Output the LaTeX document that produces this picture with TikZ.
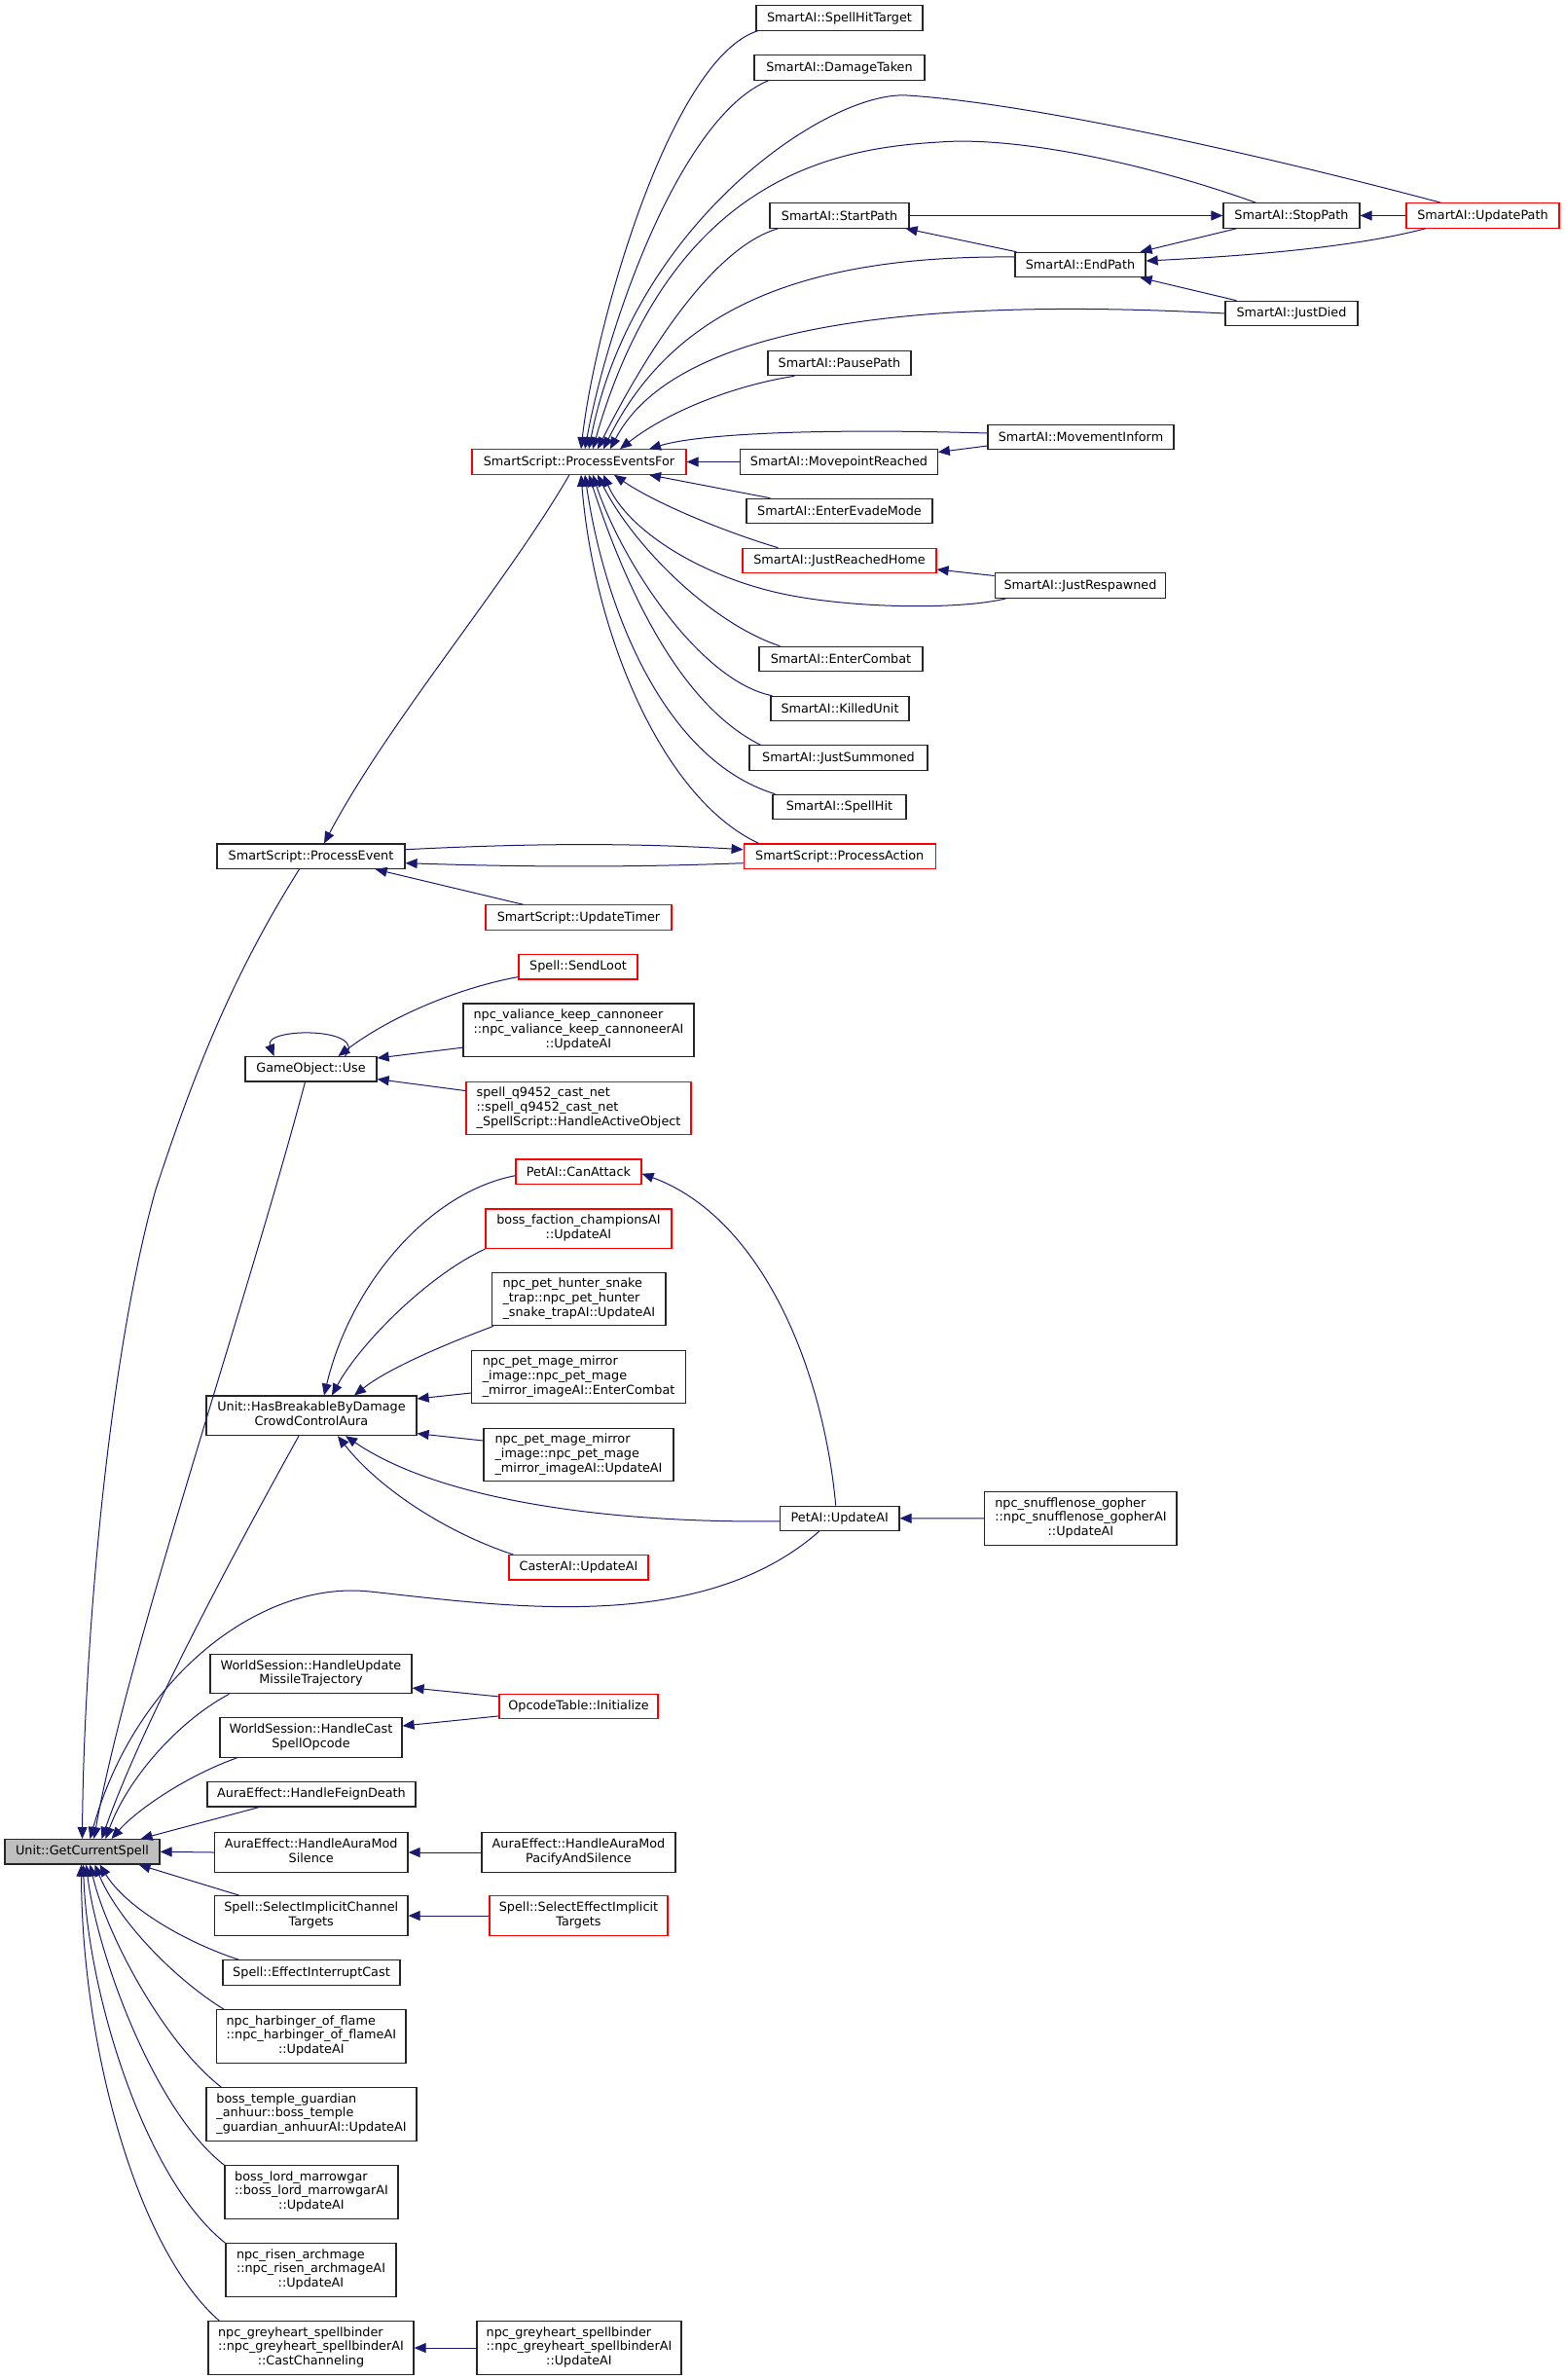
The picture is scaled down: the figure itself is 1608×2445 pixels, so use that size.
\documentclass[tikz,border=0pt]{standalone}
\usepackage{fontspec}
\setmainfont{DejaVu Sans}
\usetikzlibrary{arrows.meta}
\definecolor{edgeblue}{HTML}{191970}
\definecolor{gcsgray}{HTML}{BFBFBF}
\newcommand\twol[2]{\begin{tabular}{@{}l@{}}#1\\\multicolumn{1}{@{}c@{}}{#2}\end{tabular}}
\newcommand\threel[3]{\begin{tabular}{@{}l@{}}#1\\#2\\\multicolumn{1}{@{}c@{}}{#3}\end{tabular}}
\begin{document}
\begin{tikzpicture}[x=1pt,y=-1pt,
  nd/.style={draw=black!85,line width=1.2pt,fill=white,inner sep=0pt,font=\fontsize{12.8pt}{14.8pt}\selectfont,minimum height=25.4pt},
  rd/.style={nd,draw=red},
  two/.style={minimum height=40.5pt},
  three/.style={minimum height=54.5pt},
  ed/.style={draw=edgeblue,line width=1pt,-{Triangle[length=12pt,width=10pt]}}]
\fill[white] (0,0) rectangle (1608,2445);
\useasboundingbox (0,0) rectangle (1608,2445);

% ---------- nodes ----------
\node[rd,minimum width=220pt] (pef) at (595,474.5) {SmartScript::ProcessEventsFor};
\node[nd,minimum width=171pt] (sht) at (862.5,18.5) {SmartAI::SpellHitTarget};
\node[nd,minimum width=175pt] (dmg) at (862.5,69.5) {SmartAI::DamageTaken};
\node[nd,minimum width=143pt] (startp) at (862.5,221.5) {SmartAI::StartPath};
\node[nd,minimum width=140pt] (stopp) at (1327,221.5) {SmartAI::StopPath};
\node[rd,minimum width=157pt] (updp) at (1523.5,221.5) {SmartAI::UpdatePath};
\node[nd,minimum width=134pt] (endp) at (1110,272) {SmartAI::EndPath};
\node[nd,minimum width=136pt] (died) at (1327,322) {SmartAI::JustDied};
\node[nd,minimum width=147pt] (pause) at (862.5,373) {SmartAI::PausePath};
\node[nd,minimum width=191pt] (minf) at (1110.5,449) {SmartAI::MovementInform};
\node[nd,minimum width=202.5pt] (mpr) at (862,474.5) {SmartAI::MovepointReached};
\node[nd,minimum width=191pt] (evade) at (862.5,525) {SmartAI::EnterEvadeMode};
\node[rd,minimum width=199pt] (home) at (862.5,576) {SmartAI::JustReachedHome};
\node[nd,minimum width=175.5pt] (resp) at (1110,601.5) {SmartAI::JustRespawned};
\node[nd,minimum width=168pt] (combat) at (864,677) {SmartAI::EnterCombat};
\node[nd,minimum width=142pt] (killed) at (863,728) {SmartAI::KilledUnit};
\node[nd,minimum width=183pt] (summ) at (861.5,778.5) {SmartAI::JustSummoned};
\node[nd,minimum width=137pt] (shit) at (862.5,829) {SmartAI::SpellHit};
\node[rd,minimum width=197pt] (pact) at (862.7,879.7) {SmartScript::ProcessAction};

\node[nd,minimum width=193pt] (pev) at (319.5,879.7) {SmartScript::ProcessEvent};
\node[rd,minimum width=191pt] (timer) at (594.5,942.5) {SmartScript::UpdateTimer};
\node[rd,minimum width=122pt] (loot) at (594,993.3) {Spell::SendLoot};
\node[nd,three,minimum width=237pt] (cannon) at (594.5,1058.3) {\threel{npc\_valiance\_keep\_cannoneer}{::npc\_valiance\_keep\_cannoneerAI}{::UpdateAI}};
\node[nd,minimum width=135pt] (use) at (319.5,1098.3) {GameObject::Use};
\node[rd,three,minimum width=231pt] (q9452) at (594.5,1138.4) {\threel{spell\_q9452\_cast\_net}{::spell\_q9452\_cast\_net}{\_SpellScript::HandleActiveObject}};
\node[rd,minimum width=129pt] (canatt) at (594.5,1203.7) {PetAI::CanAttack};
\node[rd,two,minimum width=191pt] (faction) at (594.5,1262.3) {\twol{boss\_faction\_championsAI}{::UpdateAI}};
\node[nd,three,minimum width=178.4pt] (snake) at (594.8,1334.5) {\threel{npc\_pet\_hunter\_snake}{\_trap::npc\_pet\_hunter}{\_snake\_trapAI::UpdateAI}};
\node[nd,three,minimum width=220pt] (mirrorec) at (594.6,1414.5) {\threel{npc\_pet\_mage\_mirror}{\_image::npc\_pet\_mage}{\_mirror\_imageAI::EnterCombat}};
\node[nd,two,minimum width=216pt] (hasbr) at (320,1454.3) {\twol{Unit::HasBreakableByDamage}{CrowdControlAura}};
\node[nd,three,minimum width=195pt] (mirrorua) at (594.5,1494.5) {\threel{npc\_pet\_mage\_mirror}{\_image::npc\_pet\_mage}{\_mirror\_imageAI::UpdateAI}};
\node[rd,minimum width=143pt] (caster) at (594.5,1610.3) {CasterAI::UpdateAI};
\node[nd,minimum width=122.5pt] (petupd) at (862.75,1559.8) {PetAI::UpdateAI};
\node[nd,three,minimum width=197.3pt] (snuff) at (1110.4,1559.9) {\threel{npc\_snufflenose\_gopher}{::npc\_snufflenose\_gopherAI}{::UpdateAI}};
\node[nd,two,minimum width=207pt] (missile) at (319.5,1719.5) {\twol{WorldSession::HandleUpdate}{MissileTrajectory}};
\node[rd,minimum width=163pt] (opcode) at (594.5,1752.9) {OpcodeTable::Initialize};
\node[nd,two,minimum width=187pt] (castop) at (319.5,1785) {\twol{WorldSession::HandleCast}{SpellOpcode}};
\node[nd,minimum width=214pt] (feign) at (320,1843.2) {AuraEffect::HandleFeignDeath};
\node[nd,fill=gcsgray,minimum width=159pt] (gcs) at (84.5,1902.3) {Unit::GetCurrentSpell};
\node[nd,two,minimum width=198.5pt] (silence) at (319.75,1903) {\twol{AuraEffect::HandleAuraMod}{Silence}};
\node[nd,two,minimum width=199pt] (pacify) at (594.5,1903) {\twol{AuraEffect::HandleAuraMod}{PacifyAndSilence}};
\node[nd,two,minimum width=198.5pt] (chan) at (319.75,1968) {\twol{Spell::SelectImplicitChannel}{Targets}};
\node[rd,two,minimum width=183pt] (effimp) at (594.5,1968) {\twol{Spell::SelectEffectImplicit}{Targets}};
\node[nd,minimum width=182pt] (interr) at (320,2026.5) {Spell::EffectInterruptCast};
\node[nd,three,minimum width=194.4pt] (harb) at (319.8,2092) {\threel{npc\_harbinger\_of\_flame}{::npc\_harbinger\_of\_flameAI}{::UpdateAI}};
\node[nd,three,minimum width=216pt] (temple) at (320,2172) {\threel{boss\_temple\_guardian}{\_anhuur::boss\_temple}{\_guardian\_anhuurAI::UpdateAI}};
\node[nd,three,minimum width=178pt] (marrow) at (320,2252) {\threel{boss\_lord\_marrowgar}{::boss\_lord\_marrowgarAI}{::UpdateAI}};
\node[nd,three,minimum width=175pt] (risen) at (319.5,2332) {\threel{npc\_risen\_archmage}{::npc\_risen\_archmageAI}{::UpdateAI}};
\node[nd,three,minimum width=211pt] (chch) at (319.5,2412) {\threel{npc\_greyheart\_spellbinder}{::npc\_greyheart\_spellbinderAI}{::CastChanneling}};
\node[nd,three,minimum width=210pt] (grua) at (595,2412) {\threel{npc\_greyheart\_spellbinder}{::npc\_greyheart\_spellbinderAI}{::UpdateAI}};

% ---------- edges into ProcessEventsFor (top) ----------
\draw[ed] ([xshift=2pt]sht.south west) .. controls (690,60) and (612,330) .. ([xshift=2pt]pef.north);
\draw[ed] ([xshift=15pt]dmg.south west) .. controls (700,120) and (625,330) .. ([xshift=6pt]pef.north);
\draw[ed] ([xshift=36pt]updp.north west) .. controls (1300,160) and (1060,106) .. (932,98) .. controls (850,93) and (650,230) .. ([xshift=10pt]pef.north);
\draw[ed] ([xshift=34pt]stopp.north west) .. controls (1170,165) and (1040,140) .. (965,146) .. controls (860,152) and (690,180) .. ([xshift=14pt]pef.north);
\draw[ed] ([xshift=9pt]startp.south west) .. controls (730,255) and (660,370) .. ([xshift=19pt]pef.north);
\draw[ed] ([yshift=8pt]endp.west) .. controls (820,262) and (690,320) .. ([xshift=25pt]pef.north);
\draw[ed] (died.west) .. controls (850,300) and (680,360) .. ([xshift=32pt]pef.north);
\draw[ed] ([xshift=28pt]pause.south west) .. controls (760,395) and (690,420) .. ([xshift=42pt]pef.north);
\draw[ed] ([yshift=4pt]minf.west) .. controls (850,440) and (720,445) .. ([xshift=72pt]pef.north);
\draw[ed] (mpr.west) -- (pef.east);
% ---------- edges into ProcessEventsFor (bottom) ----------
\draw[ed] ([xshift=25pt]evade.north west) -- ([xshift=72pt]pef.south);
\draw[ed] ([xshift=37pt]home.north west) .. controls (740,545) and (670,515) .. ([xshift=36pt]pef.south);
\draw[ed] ([xshift=12pt]resp.south west) .. controls (990,626) and (880,626) .. (804,610) .. controls (720,592) and (645,545) .. ([xshift=25pt]pef.south);
\draw[ed] ([xshift=22pt]combat.north west) .. controls (730,640) and (650,560) .. ([xshift=19pt]pef.south);
\draw[ed] ([xshift=2pt]killed.north west) .. controls (720,700) and (640,580) .. ([xshift=14pt]pef.south);
\draw[ed] ([xshift=12pt]summ.north west) .. controls (690,720) and (635,580) .. ([xshift=10pt]pef.south);
\draw[ed] ([xshift=3pt]shit.north west) .. controls (680,780) and (620,620) .. ([xshift=6pt]pef.south);
\draw[ed] ([xshift=16pt]pact.north west) .. controls (680,820) and (610,650) .. ([xshift=2pt]pef.south);

% ---------- top right ----------
\draw[ed] (startp.east) -- (stopp.west);
\draw[ed] (updp.west) -- (stopp.east);
\draw[ed] ([xshift=2pt]endp.north west) -- ([xshift=-4pt]startp.south east);
\draw[ed] ([xshift=14pt]stopp.south west) -- ([xshift=-6pt]endp.north east);
\draw[ed] ([xshift=20pt]updp.south west) .. controls (1400,252) and (1300,262) .. ([yshift=4pt]endp.east);
\draw[ed] ([xshift=12pt]died.north west) -- ([xshift=-6pt]endp.south east);
\draw[ed] ([yshift=-9pt]minf.west) -- ([yshift=10pt]mpr.east);
\draw[ed] ([yshift=10pt]resp.west) -- ([yshift=-9pt]home.east);

% ---------- ProcessEvent ----------
\draw[ed] ([xshift=-10pt]pef.south) .. controls (520,600) and (400,740) .. ([xshift=13.5pt]pev.north);
\draw[ed] ([yshift=7pt]pev.east) .. controls (550,866) and (650,866) .. ([yshift=7pt]pact.west);
\draw[ed] ([yshift=-7pt]pact.west) .. controls (650,891) and (550,891) .. ([yshift=-7pt]pev.east);
\draw[ed] ([xshift=39pt]timer.north west) -- ([xshift=-31pt]pev.south east);
\draw[ed] ([xshift=-12pt]pev.south) .. controls (240,1000) and (200,1100) .. (160,1222) .. controls (110,1400) and (86,1700) .. (gcs.north);

% ---------- GameObject::Use ----------
\draw[ed] ([xshift=35pt]use.north) .. controls (380,1055) and (270,1055) .. ([xshift=-38pt]use.north);
\draw[ed] ([yshift=3pt]loot.south west) .. controls (470,1015) and (400,1045) .. ([xshift=28pt]use.north);
\draw[ed] ([yshift=10pt]cannon.south west) -- ([yshift=-2pt]use.north east);
\draw[ed] ([yshift=-10pt]q9452.north west) -- ([yshift=3pt]use.south east);
\draw[ed] ([xshift=-6pt]use.south) .. controls (250,1350) and (130,1700) .. ([xshift=12pt]gcs.north);

% ---------- HasBreakable ----------
\draw[ed] ([yshift=-4pt]canatt.west) .. controls (440,1225) and (360,1320) .. ([xshift=13pt]hasbr.north);
\draw[ed] (faction.south west) .. controls (440,1310) and (370,1380) .. ([xshift=21pt]hasbr.north);
\draw[ed] ([xshift=2pt]snake.south west) .. controls (460,1380) and (400,1405) .. ([xshift=44pt]hasbr.north);
\draw[ed] ([yshift=-16.5pt]mirrorec.west) -- ([yshift=-3.5pt]hasbr.north east);
\draw[ed] ([yshift=14.5pt]mirrorua.west) -- ([yshift=2.5pt]hasbr.south east);
\draw[ed] ([yshift=-3pt]petupd.west) .. controls (620,1565) and (450,1540) .. ([xshift=35pt]hasbr.south);
\draw[ed] ([xshift=5pt]caster.north west) .. controls (460,1575) and (390,1530) .. ([xshift=27pt]hasbr.south);
\draw[ed] ([xshift=-13pt]hasbr.south) .. controls (260,1560) and (150,1760) .. ([xshift=20pt]gcs.north);

% ---------- PetAI ----------
\draw[ed] ([xshift=-4pt]petupd.north) .. controls (845,1400) and (780,1250) .. ([yshift=-2pt]canatt.east);
\draw[ed] (snuff.west) -- (petupd.east);
\draw[ed] ([xshift=-21pt]petupd.south) .. controls (720,1680) and (520,1650) .. (380,1635) .. controls (270,1623) and (140,1720) .. ([xshift=8pt]gcs.north);

% ---------- lower callers ----------
\draw[ed] ([yshift=10pt]opcode.west) -- ([yshift=-14.5pt]missile.east);
\draw[ed] ([yshift=-10pt]opcode.west) -- ([yshift=12pt]castop.east);
\draw[ed] ([xshift=20pt]missile.south west) .. controls (180,1770) and (130,1830) .. ([xshift=24pt]gcs.north);
\draw[ed] ([xshift=18pt]castop.south west) .. controls (190,1825) and (140,1860) .. ([xshift=30pt]gcs.north);
\draw[ed] ([xshift=54pt]feign.south west) -- ([xshift=-20pt]gcs.north east);
\draw[ed] (silence.west) -- (gcs.east);
\draw[ed] (pacify.west) -- (silence.east);
\draw[ed] ([xshift=26pt]chan.north west) -- ([xshift=-22pt]gcs.south east);
\draw[ed] (effimp.west) -- (chan.east);
\draw[ed] ([xshift=17pt]interr.north west) .. controls (190,1995) and (130,1960) .. ([xshift=18pt]gcs.south);
\draw[ed] ([xshift=8pt]harb.north west) .. controls (175,2030) and (120,1970) .. ([xshift=13pt]gcs.south);
\draw[ed] ([xshift=16pt]temple.north west) .. controls (170,2100) and (110,1990) .. ([xshift=8pt]gcs.south);
\draw[ed] (marrow.north west) .. controls (160,2170) and (100,2010) .. ([xshift=4pt]gcs.south);
\draw[ed] (risen.north west) .. controls (150,2240) and (90,2050) .. ([xshift=1pt]gcs.south);
\draw[ed] ([xshift=12pt]chch.north west) .. controls (140,2310) and (84,2100) .. ([xshift=-1pt]gcs.south);
\draw[ed] (grua.west) -- (chch.east);
\end{tikzpicture}
\end{document}
